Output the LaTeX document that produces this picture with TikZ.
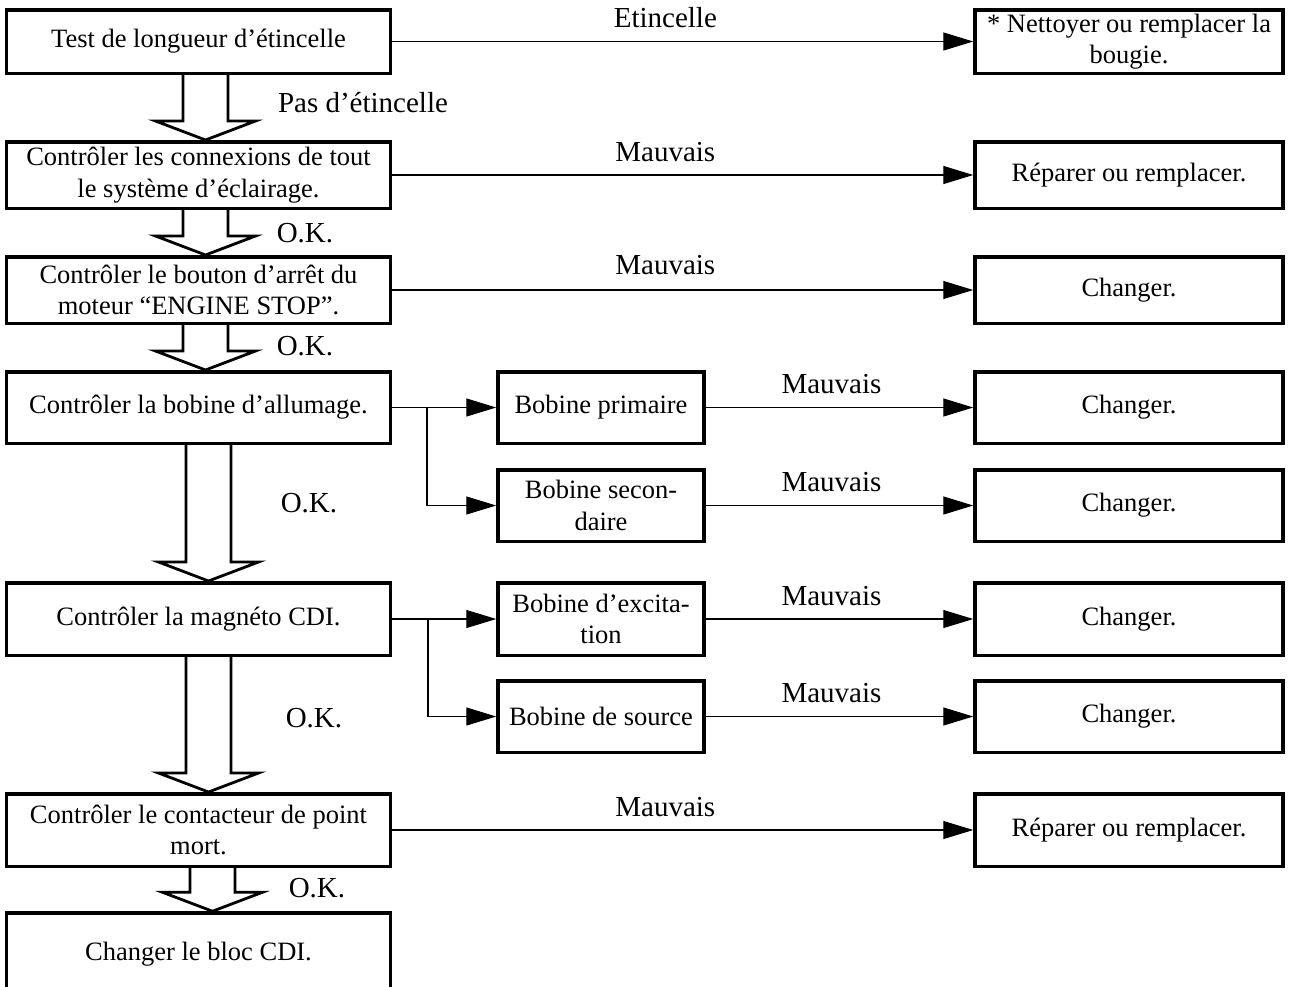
\documentclass[tikz,border=0pt]{standalone}
\usepackage{fontspec}
\setmainfont{Liberation Serif}
\usetikzlibrary{arrows.meta,positioning,calc}

% hollow block arrow between two stacked boxes
\newcommand{\okflow}[3]{%
    \draw[hollow]
        ($(#1.south)+(#3-22.5,0)$) -- ($(#2.north)+(#3-22.5,-19)$)
        -- ($(#2.north)+(#3-50,-19)$) -- ($(#2.north)+(#3,0)$)
        -- ($(#2.north)+(#3+50,-19)$) -- ($(#2.north)+(#3+22.5,-19)$)
        -- ($(#1.south)+(#3+22.5,0)$);
}

\begin{document}
\begin{tikzpicture}[
        x=1pt, y=-1pt,
        every node/.style={font=\fontsize{26.5}{31.5}\selectfont},
        box/.style={
            draw,
            line width=3.5pt,
            align=center,
            inner sep=0pt,
            minimum width=384pt
        },
        fix/.style={box, minimum width=308pt},
        coil/.style={box, minimum width=206pt},
        flow/.style={-{Triangle[length=30pt,width=18pt]},line width=1.2pt},
        hollow/.style={draw, fill=white, line width=2.8pt, line join=miter},
        lbl/.style={inner sep=0pt, font=\fontsize{29}{34}\selectfont},
        bad/.style={lbl, pos=0.47, above=13pt}
    ]
        \useasboundingbox (0,0) rectangle (1290,986);

        % left column
        \node[box, minimum height=63.5pt] (spark) at (198.5,41.5)
            {Test de longueur d’étincelle};
        \node[box, minimum height=66.5pt] (wiring) at (198.5,175)
            {Contrôler les connexions de tout\\le système d’éclairage.};
        \node[box, minimum height=66.5pt] (stopsw) at (198.5,290)
            {Contrôler le bouton d’arrêt du\\moteur “ENGINE STOP”.};
        \node[box, minimum height=71.5pt] (igncoil) at (198.5,407.5)
            {Contrôler la bobine d’allumage.};
        \node[box, minimum height=72.5pt] (magneto) at (198.5,619)
            {Contrôler la magnéto CDI.};
        \node[box, minimum height=72.5pt] (pulser) at (198.5,830)
            {Contrôler le contacteur de point\\mort.};
        \node[box, minimum height=82pt] (cdi) at (198.5,954)
            {Changer le bloc CDI.};

        % middle column
        \node[coil, minimum height=71.5pt] (prim) at (601,407.5)
            {Bobine primaire};
        \node[coil, minimum height=71.5pt] (sec) at (601,505.5)
            {Bobine secon-\\daire};
        \node[coil, minimum height=72.5pt] (excit) at (601,619)
            {Bobine d’excita-\\tion};
        \node[coil, minimum height=71.5pt] (source) at (601,716.5)
            {Bobine de source};

        % right column
        \node[fix, minimum height=63.5pt] (plug) at (1129,41.5)
            {* Nettoyer ou remplacer la\\bougie.};
        \node[fix, minimum height=66.5pt] (fixwiring) at (1129,175)
            {Réparer ou remplacer.};
        \node[fix, minimum height=66.5pt] (newsw) at (1129,290)
            {Changer.};
        \node[fix, minimum height=71.5pt] (newprim) at (1129,407.5)
            {Changer.};
        \node[fix, minimum height=71.5pt] (newsec) at (1129,505.5)
            {Changer.};
        \node[fix, minimum height=72.5pt] (newexcit) at (1129,619)
            {Changer.};
        \node[fix, minimum height=71.5pt] (newsource) at (1129,716.5)
            {Changer.};
        \node[fix, minimum height=72.5pt] (fixpulser) at (1129,830)
            {Réparer ou remplacer.};

        % block arrows down the left column
        \okflow{spark}{wiring}{7}
        \okflow{wiring}{stopsw}{7}
        \okflow{stopsw}{igncoil}{7}
        \okflow{igncoil}{magneto}{10}
        \okflow{magneto}{pulser}{10}
        \okflow{pulser}{cdi}{14}

        \node[lbl] (nospark) at (363,103) {Pas d’étincelle};
        \node[lbl] (ok1) at (305,233) {O.K.};
        \node[lbl] (ok2) at (305,346) {O.K.};
        \node[lbl] (ok3) at (309,503) {O.K.};
        \node[lbl] (ok4) at (314,718) {O.K.};
        \node[lbl] (ok5) at (317,888) {O.K.};

        % horizontal connectors
        \draw[flow] (spark) -- node[bad] {Etincelle} (plug);
        \draw[flow] (wiring) -- node[bad] {Mauvais} (fixwiring);
        \draw[flow] (stopsw) -- node[bad, above=15pt] {Mauvais} (newsw);

        \coordinate (split1) at (427,407.5);
        \draw[flow] (igncoil) -- (prim);
        \draw[flow] (split1) |- (sec.west);
        \draw[flow] (prim) -- node[bad] {Mauvais} (newprim);
        \draw[flow] (sec) -- node[bad] {Mauvais} (newsec);

        \coordinate (split2) at (428,619);
        \draw[flow] (magneto) -- (excit);
        \draw[flow] (split2) |- (source.west);
        \draw[flow] (excit) -- node[bad] {Mauvais} (newexcit);
        \draw[flow] (source) -- node[bad] {Mauvais} (newsource);

        \draw[flow] (pulser) -- node[bad] {Mauvais} (fixpulser);

\end{tikzpicture}
\end{document}
